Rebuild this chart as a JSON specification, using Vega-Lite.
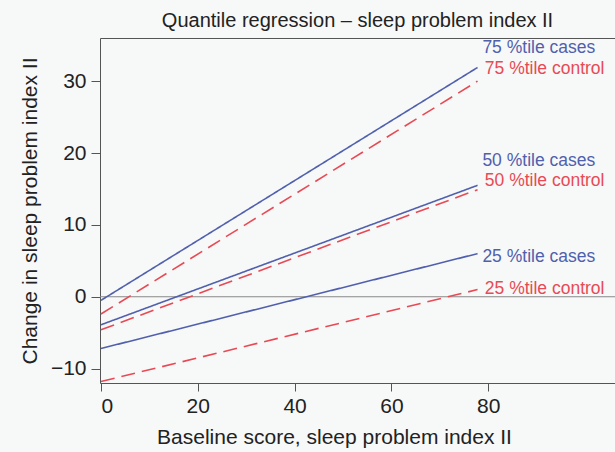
{
  "$schema": "https://vega.github.io/schema/vega-lite/v6.json",
  "width": 515,
  "height": 345,
  "autosize": "none",
  "padding": {"left": 100, "top": 38, "right": 0, "bottom": 69},
  "background": "#f7f8f8",
  "config": {
    "view": {"stroke": null},
    "font": "Liberation Sans",
    "axis": {"grid": false, "domainColor": "#555555", "tickColor": "#555555", "labelColor": "#222222", "titleColor": "#222222", "labelFont": "Liberation Sans", "titleFont": "Liberation Sans", "titleFontWeight": "normal"}
  },
  "title": {"text": "Quantile regression – sleep problem index II", "fontSize": 20, "fontWeight": "normal", "font": "Liberation Sans", "color": "#222222", "offset": 7, "anchor": "middle", "frame": "group"},
  "resolve": {"axis": {"x": "independent"}},
  "layer": [
    {
      "data": {"values": [{"y": 0}]},
      "mark": {"type": "rule", "color": "#888888", "strokeWidth": 1},
      "encoding": {
        "y": {"field": "y", "type": "quantitative", "scale": {"domain": [-12, 36], "nice": false, "zero": false},
          "axis": {"values": [-10, 0, 10, 20, 30], "title": "Change in sleep problem index II", "titleFontSize": 21, "labelFontSize": 21, "tickSize": 9, "labelPadding": 5, "titlePadding": 10}}
      }
    },
    {
      "data": {"values": [
        {"series": "75 cases", "group": "cases", "x": 0, "y": -0.5},
        {"series": "75 cases", "group": "cases", "x": 77.8, "y": 31.9},
        {"series": "75 control", "group": "control", "x": 0, "y": -2.4},
        {"series": "75 control", "group": "control", "x": 77.8, "y": 30.0},
        {"series": "50 cases", "group": "cases", "x": 0, "y": -3.9},
        {"series": "50 cases", "group": "cases", "x": 77.8, "y": 15.5},
        {"series": "50 control", "group": "control", "x": 0, "y": -4.6},
        {"series": "50 control", "group": "control", "x": 77.8, "y": 14.9},
        {"series": "25 cases", "group": "cases", "x": 0, "y": -7.2},
        {"series": "25 cases", "group": "cases", "x": 77.8, "y": 6.0},
        {"series": "25 control", "group": "control", "x": 0, "y": -11.8},
        {"series": "25 control", "group": "control", "x": 77.8, "y": 1.0}
      ]},
      "mark": {"type": "line", "strokeWidth": 1.6},
      "encoding": {
        "x": {"field": "x", "type": "quantitative", "scale": {"domain": [-0.2, 106.2], "nice": false, "zero": false},
          "axis": {"values": [0, 20, 40, 60, 80], "title": "Baseline score, sleep problem index II", "titleFontSize": 21, "labelFontSize": 21, "tickSize": 8, "labelPadding": 4, "titlePadding": 10, "titleX": 234}},
        "y": {"field": "y", "type": "quantitative"},
        "detail": {"field": "series"},
        "color": {"field": "group", "type": "nominal", "scale": {"domain": ["cases", "control"], "range": ["#5060ad", "#e84a55"]}, "legend": null},
        "strokeDash": {"field": "group", "type": "nominal", "scale": {"domain": ["cases", "control"], "range": [[1, 0], [14, 7]]}, "legend": null}
      }
    },
    {
      "data": {"values": [
        {"label": "75 %tile cases", "group": "cases", "x": 78.8, "y": 34.6},
        {"label": "75 %tile control", "group": "control", "x": 79.3, "y": 31.7},
        {"label": "50 %tile cases", "group": "cases", "x": 78.8, "y": 18.9},
        {"label": "50 %tile control", "group": "control", "x": 79.3, "y": 16.1},
        {"label": "25 %tile cases", "group": "cases", "x": 78.8, "y": 5.6},
        {"label": "25 %tile control", "group": "control", "x": 79.3, "y": 1.1}
      ]},
      "mark": {"type": "text", "align": "left", "baseline": "middle", "fontSize": 17.5, "font": "Liberation Sans"},
      "encoding": {
        "x": {"field": "x", "type": "quantitative", "axis": {"orient": "top", "labels": false, "ticks": false, "title": null, "domain": true}},
        "y": {"field": "y", "type": "quantitative"},
        "text": {"field": "label"},
        "color": {"field": "group", "type": "nominal", "scale": {"domain": ["cases", "control"], "range": ["#5060ad", "#e84a55"]}, "legend": null}
      }
    }
  ]
}
